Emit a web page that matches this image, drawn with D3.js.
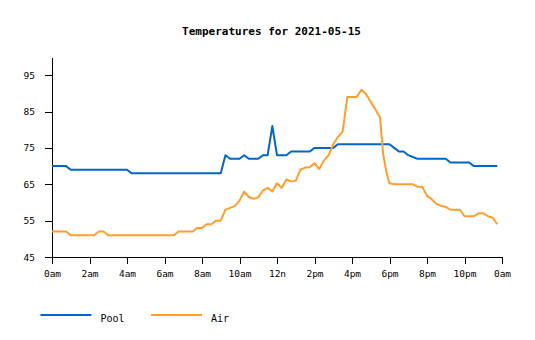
<!DOCTYPE html>
<html>
<head>
<meta charset="utf-8">
<script src="https://cdn.jsdelivr.net/npm/d3@7"></script>
<style>
  body { margin: 0; background: #fff; }
  svg { display: block; }
  text { font-family: "DejaVu Sans Mono", monospace; fill: #000; }
</style>
</head>
<body>
<svg id="chart" width="535" height="340"></svg>
<script>
// ---- data -------------------------------------------------------------
const chartTitle = "Temperatures for 2021-05-15";

const hourTicks  = [0, 2, 4, 6, 8, 10, 12, 14, 16, 18, 20, 22, 24];
const hourLabels = ["0am", "2am", "4am", "6am", "8am", "10am", "12n",
                    "2pm", "4pm", "6pm", "8pm", "10pm", "0am"];
const tempTicks  = [45, 55, 65, 75, 85, 95];

const seriesNames = ["Pool", "Air"];

const poolTimes = ["00:00","00:45","01:00","04:00","04:15","09:00","09:15","09:30",
                   "10:00","10:15","10:30","11:00","11:15","11:30","11:45","12:00",
                   "12:30","12:45","13:45","14:00","15:00","15:15","18:00","18:15",
                   "18:30","18:45","19:00","19:15","19:30","21:00","21:15","22:15",
                   "22:30","23:45"];
const poolTemps = [70, 70, 69, 69, 68, 68, 73, 72,
                   72, 73, 72, 72, 73, 73, 81, 73,
                   73, 74, 74, 75, 75, 76, 76, 75,
                   74, 74, 73, 72.5, 72, 72, 71, 71,
                   70, 70];

const airTimes = ["00:00","00:45","01:00","02:15","02:30","02:45","03:00","06:30",
                  "06:45","07:30","07:45","08:00","08:15","08:30","08:45","09:00",
                  "09:15","09:30","09:45","10:00","10:15","10:30","10:45","11:00",
                  "11:15","11:30","11:45","12:00","12:15","12:30","12:45","13:00",
                  "13:15","13:30","13:45","14:00","14:15","14:30","14:45","15:00",
                  "15:15","15:30","15:45","16:00","16:15","16:30","16:45","17:00",
                  "17:15","17:30","17:35","17:40","17:45","17:50","17:55","18:00",
                  "18:15","18:30","18:45","19:00","19:15","19:30","19:45","20:00",
                  "20:15","20:30","20:45","21:00","21:15","21:30","21:45","22:00",
                  "22:15","22:30","22:45","23:00","23:15","23:30","23:45"];
const airTemps = [52, 52, 51, 51, 52, 52, 51, 51,
                  52, 52, 53, 53, 54, 54, 55, 55,
                  58, 58.5, 59, 60.5, 63, 61.5, 61, 61.4,
                  63.3, 64, 63, 65.3, 64, 66.3, 65.8, 66,
                  69, 69.6, 69.7, 70.8, 69.2, 71.5, 73, 76,
                  78, 79.5, 89, 89, 89, 91, 89.8, 87.6,
                  85.6, 83.3, 77.8, 73.1, 70.7, 68.5, 66.6, 65.3,
                  65, 65, 65, 65, 65, 64.3, 64.3, 61.8,
                  60.9, 59.6, 59, 58.8, 58, 58, 58, 56.2,
                  56.2, 56.2, 57, 57, 56.2, 55.8, 54];

const seriesColors = ["#0066cc", "#ff9e2a"];

// ---- layout -----------------------------------------------------------
const svg = d3.select("#chart");
const plot = { left: 52, right: 502, top: 57, bottom: 257 };

const toHours = t => { const [h, m] = t.split(":").map(Number); return h + m / 60; };

const x = d3.scaleLinear().domain([0, 24]).range([plot.left, plot.right]);
const y = d3.scaleLinear().domain([45, 100]).range([plot.bottom, plot.top]);

// title
svg.append("text")
  .attr("x", 271.5).attr("y", 34.5)
  .attr("text-anchor", "middle")
  .style("font-size", "11px")
  .style("font-weight", "bold")
  .text(chartTitle);

// axes
const xAxis = d3.axisBottom(x)
  .tickValues(hourTicks)
  .tickFormat((d, i) => hourLabels[i])
  .tickSize(7).tickSizeOuter(0).tickPadding(6);

const yAxis = d3.axisLeft(y)
  .tickValues(tempTicks)
  .tickSize(7).tickSizeOuter(0).tickPadding(10);

const gx = svg.append("g")
  .attr("transform", `translate(0,${plot.bottom})`)
  .call(xAxis);
const gy = svg.append("g")
  .attr("transform", `translate(${plot.left},0)`)
  .call(yAxis);

[gx, gy].forEach(g => {
  g.attr("font-family", null).attr("font-size", null);
  g.selectAll("path, line").attr("stroke", "#000").attr("shape-rendering", "crispEdges");
  g.selectAll("text").style("font-size", "9.5px");
});

// series lines
const series = [
  { name: seriesNames[0], times: poolTimes, temps: poolTemps, color: seriesColors[0] },
  { name: seriesNames[1], times: airTimes,  temps: airTemps,  color: seriesColors[1] }
];

const line = d3.line()
  .x(d => x(d.h))
  .y(d => y(d.v));

series.forEach(s => {
  const pts = s.times.map((t, i) => ({ h: toHours(t), v: s.temps[i] }));
  svg.append("path")
    .datum(pts)
    .attr("fill", "none")
    .attr("stroke", s.color)
    .attr("stroke-width", 2)
    .attr("stroke-linejoin", "round")
    .attr("d", line);
});

// legend
const legend = svg.append("g").attr("transform", "translate(40.5,315)");
series.forEach((s, i) => {
  const g = legend.append("g").attr("transform", `translate(${i * 110.5},0)`);
  g.append("line")
    .attr("x1", 0).attr("x2", 51)
    .attr("y1", 0).attr("y2", 0)
    .attr("stroke", s.color)
    .attr("stroke-width", 2);
  g.append("text")
    .attr("x", 60).attr("y", 6.5)
    .style("font-size", "10px")
    .text(s.name);
});
</script>
</body>
</html>
